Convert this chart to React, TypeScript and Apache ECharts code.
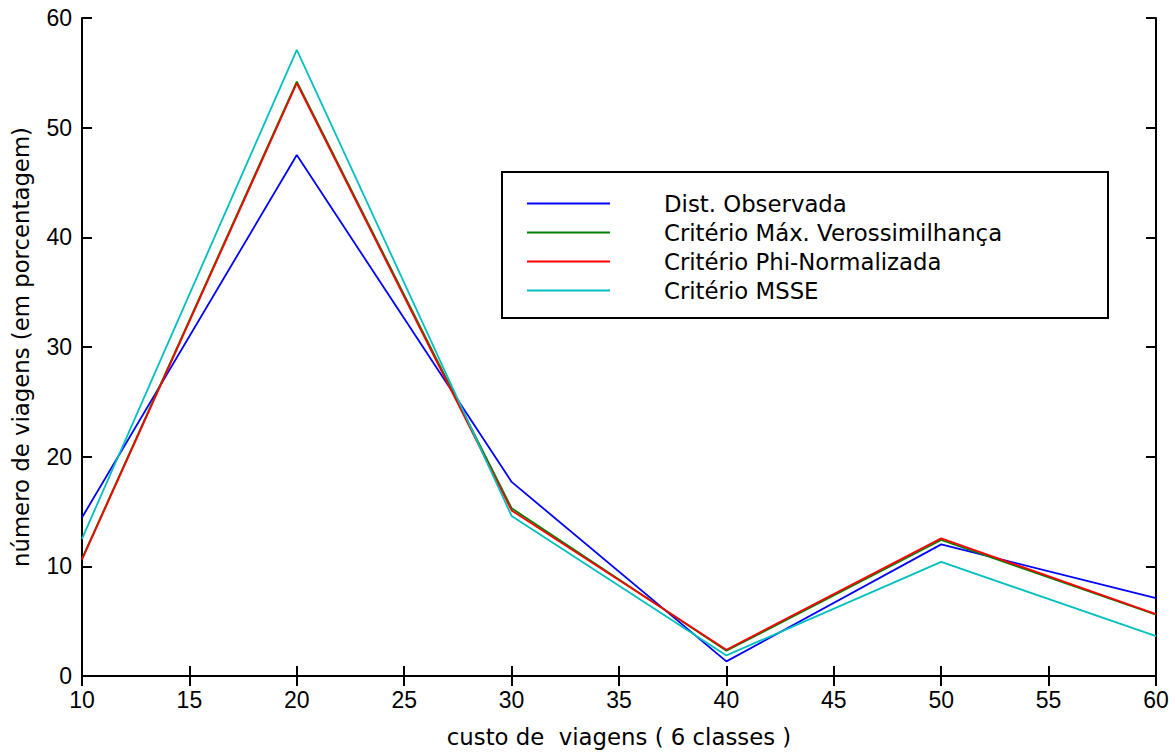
import React, { useEffect, useRef } from "react";
import * as echarts from "echarts";

const xValues = [10, 20, 30, 40, 50, 60];
const seriesNames = [
  "Dist. Observada",
  "Critério Máx. Verossimilhança",
  "Critério Phi-Normalizada",
  "Critério MSSE",
];
const observada = [14.45, 47.5, 17.7, 1.33, 12.0, 7.1];
const maxVeross = [10.7, 54.2, 15.3, 2.3, 12.4, 5.6];
const phiNorm = [10.6, 54.05, 15.1, 2.4, 12.55, 5.65];
const msse = [12.5, 57.1, 14.6, 1.88, 10.4, 3.64];
const colors = ["#0000ff", "#008000", "#ff0000", "#00bfbf"];

export default function App() {
  const ref = useRef<HTMLDivElement>(null);
  useEffect(() => {
    document.body.style.margin = "0";
    const chart = echarts.init(ref.current!, null, { renderer: "svg" });
    const tickFont = "'Liberation Sans', Arial, sans-serif";
    const textFont = "'DejaVu Sans', sans-serif";
    const datas = [observada, maxVeross, phiNorm, msse];
    const axisCommon = {
      axisLine: { show: true, lineStyle: { color: "#000", width: 2 } },
      axisTick: { show: true, inside: true, length: 10, lineStyle: { color: "#000", width: 2 } },
      splitLine: { show: false },
    };
    chart.setOption({
      animation: false,
      backgroundColor: "#fff",
      grid: { left: 82, right: 19, top: 18, bottom: 71 },
      graphic: [
        {
          type: "rect",
          shape: { x: 502, y: 172, width: 606, height: 146 },
          style: { fill: "#fff", stroke: "#000", lineWidth: 2 },
          z: 10,
        },
      ],
      legend: {
        orient: "vertical",
        left: 527,
        top: 192,
        itemWidth: 83,
        itemHeight: 2,
        itemGap: 6,
        padding: 0,
        icon: "rect",
        z: 20,
        data: seriesNames,
        textStyle: {
          fontFamily: textFont,
          fontSize: 22.8,
          color: "#000",
          padding: [0, 0, 0, 49],
        },
      },
      xAxis: [
        {
          type: "value",
          min: 10,
          max: 60,
          interval: 5,
          position: "bottom",
          ...axisCommon,
          axisLabel: { color: "#000", fontSize: 23, fontFamily: tickFont, margin: 12 },
          name: "custo de  viagens ( 6 classes )",
          nameLocation: "middle",
          nameGap: 49,
          nameTextStyle: { color: "#000", fontSize: 22.8, fontFamily: textFont },
        },
        {
          type: "value",
          min: 10,
          max: 60,
          interval: 5,
          position: "top",
          ...axisCommon,
          axisLabel: { show: false },
        },
      ],
      yAxis: [
        {
          type: "value",
          min: 0,
          max: 60,
          interval: 10,
          position: "left",
          ...axisCommon,
          axisLabel: { color: "#000", fontSize: 23, fontFamily: tickFont, margin: 10 },
          name: "número de viagens (em porcentagem)",
          nameLocation: "middle",
          nameGap: 50,
          nameTextStyle: { color: "#000", fontSize: 22.8, fontFamily: textFont },
        },
        {
          type: "value",
          min: 0,
          max: 60,
          interval: 10,
          position: "right",
          ...axisCommon,
          axisLabel: { show: false },
        },
      ],
      series: seriesNames.map((name, i) => ({
        name,
        type: "line",
        symbol: "none",
        data: xValues.map((x, j) => [x, datas[i][j]]),
        lineStyle: { color: colors[i], width: 1.8 },
        itemStyle: { color: colors[i] },
      })),
    });
    return () => chart.dispose();
  }, []);
  return <div ref={ref} style={{ width: 1175, height: 753 }} />;
}
